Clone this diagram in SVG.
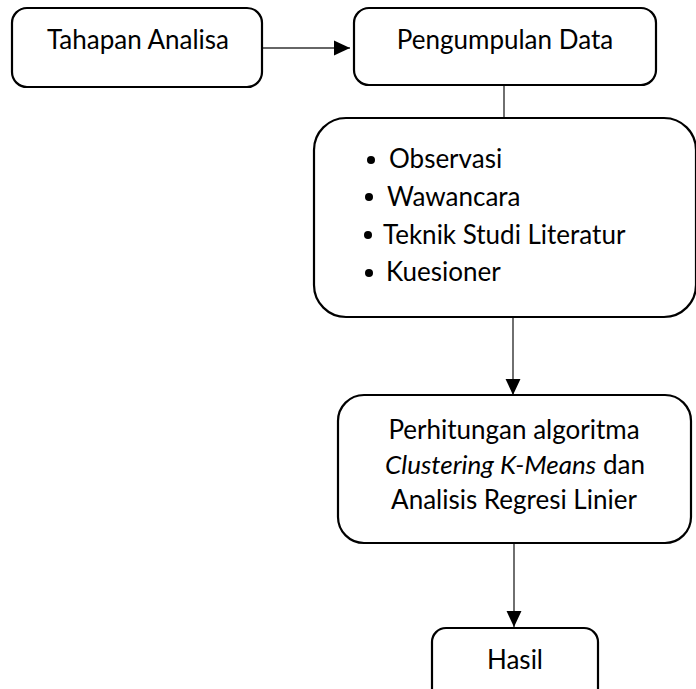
<svg xmlns="http://www.w3.org/2000/svg" width="696" height="689" viewBox="0 0 696 689">
<style>
.box{fill:#fff;stroke:#000;stroke-width:2.2}
.t{font-family:Lato,"Liberation Sans",sans-serif;font-size:26px;fill:#000}
.c{text-anchor:middle}
.line{stroke:#333;stroke-width:1.4;fill:none}
</style>
<defs>
<marker id="ah" markerUnits="userSpaceOnUse" markerWidth="16" markerHeight="16" viewBox="0 0 15 14" refX="15" refY="7" orient="auto">
<path d="M0,0 L15,7 L0,14 Z" fill="#000"/>
</marker>
</defs>
<rect width="696" height="689" fill="#fff"/>
<g id="connectors">
<line class="line" x1="262" y1="48" x2="350" y2="48" marker-end="url(#ah)"/>
<line class="line" x1="504" y1="85" x2="504" y2="118"/>
<line class="line" x1="513" y1="317" x2="513" y2="395" marker-end="url(#ah)"/>
<line class="line" x1="514" y1="543" x2="514" y2="627" marker-end="url(#ah)"/>
</g>
<g id="node-tahapan">
<rect class="box" x="12" y="8" width="250" height="79" rx="15"/>
<text class="t c" x="138" y="49">Tahapan Analisa</text>
</g>
<g id="node-pengumpulan">
<rect class="box" x="354" y="8" width="302" height="77" rx="15"/>
<text class="t c" x="505" y="49">Pengumpulan Data</text>
</g>
<g id="node-metode">
<rect class="box" x="314" y="118" width="382" height="199" rx="32"/>
<circle cx="371" cy="160" r="4"/>
<text class="t" x="389" y="168">Observasi</text>
<circle cx="369" cy="197" r="4"/>
<text class="t" x="387" y="206">Wawancara</text>
<circle cx="368" cy="235" r="4"/>
<text class="t" x="383" y="244">Teknik Studi Literatur</text>
<circle cx="369" cy="273" r="4"/>
<text class="t" x="386" y="281">Kuesioner</text>
</g>
<g id="node-perhitungan">
<rect class="box" x="338" y="395" width="353" height="148" rx="26"/>
<text class="t c" x="514" y="439">Perhitungan algoritma</text>
<text class="t c" x="515" y="474"><tspan font-style="italic">Clustering K-Means</tspan> dan</text>
<text class="t c" x="514" y="509">Analisis Regresi Linier</text>
</g>
<g id="node-hasil">
<rect class="box" x="432" y="628" width="166" height="80" rx="14"/>
<text class="t c" x="515" y="669">Hasil</text>
</g>
</svg>
